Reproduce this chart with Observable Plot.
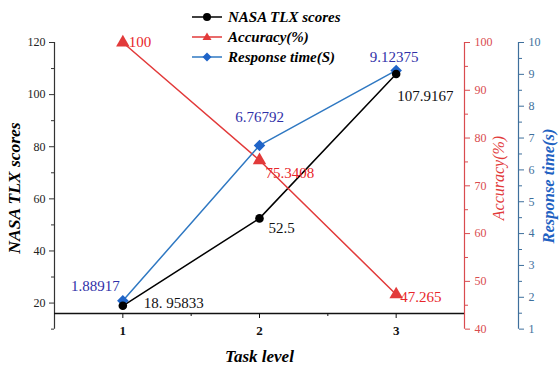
<!DOCTYPE html>
<html>
<head>
<meta charset="utf-8">
<script src="https://cdn.jsdelivr.net/npm/d3@7"></script>
<script src="https://cdn.jsdelivr.net/npm/@observablehq/plot@0.6"></script>
<style>
  body { margin: 0; background: #fff; }
  #wrap { position: relative; width: 559px; height: 370px; font-family: "Liberation Serif", "Times New Roman", serif; }
  #legend { position: absolute; left: 190px; top: 7px; }
  .row { display: flex; align-items: center; height: 20px; font-weight: bold; font-style: italic; font-size: 15px; color: #000; }
  .row svg { margin-right: 4px; }
  svg text { font-family: "Liberation Serif", "Times New Roman", serif; }
</style>
</head>
<body>
<div id="wrap"><div id="legend"></div></div>
<script>
// ---- data ----
const taskLevels = [1, 2, 3];
const nasaScores = [18.95833, 52.5, 107.9167];
const nasaLabels = ["18. 95833", "52.5", "107.9167"];
const accuracy = [100, 75.3408, 47.265];
const accuracyLabels = ["100", "75.3408", "47.265"];
const responseTime = [1.88917, 6.76792, 9.12375];
const responseLabels = ["1.88917", "6.76792", "9.12375"];

const leftMajor = [20, 40, 60, 80, 100, 120];
const leftMinor = [10, 30, 50, 70, 90, 110];
const accMajor = [40, 50, 60, 70, 80, 90, 100];
const accMinor = [45, 55, 65, 75, 85, 95];
const rtMajor = [1, 2, 3, 4, 5, 6, 7, 8, 9, 10];
const rtMinor = [1.5, 2.5, 3.5, 4.5, 5.5, 6.5, 7.5, 8.5, 9.5];
const xMajor = [1, 2, 3];
const xMinor = [1.5, 2.5];

// ---- scale mappings (right axes onto left axis domain) ----
const leftDomain = [10, 120];
const accDomain = [40, 100];
const rtDomain = [1, 10];
const xAxisAt = 16;
const lin = (a, b) => v => b[0] + (v - a[0]) / (a[1] - a[0]) * (b[1] - b[0]);
const accToLeft = lin(accDomain, leftDomain), leftToAcc = lin(leftDomain, accDomain);
const rtToLeft = lin(rtDomain, leftDomain), leftToRt = lin(leftDomain, rtDomain);

const rows = taskLevels.map((t, i) => ({
  t,
  nasa: nasaScores[i], nasaLabel: nasaLabels[i],
  acc: accToLeft(accuracy[i]), accLabel: accuracyLabels[i],
  rt: rtToLeft(responseTime[i]), rtLabel: responseLabels[i]
}));

// colours
const BLACK = "#000";
const RED = "#e23a3a", RED_TXT = "#e8262a", RED_AX = "#d94b4f";
const BLUE = "#2f78c2", BLUE_MK = "#1f64c8", BLUE_TXT = "#3030a8", BLUE_AX = "#3e6f9c", BLUE_TTL = "#1f62c2";
const serif = "Liberation Serif";

// per-label offsets (layout only)
const nasaOff = [[21, -3, "start"], [9, 10, "start"], [1, 22, "start"]];
const accOff = [[6, 0, "start"], [6, 13, "start"], [4, 3, "start"]];
const rtOff = [[-3, -15, "end"], [0, -28, "middle"], [-2, -13, "middle"]];

function labelMarks(key, textKey, offs, fill) {
  return rows.map((r, i) => Plot.text([r], {
    x: "t", y: key, text: textKey, dx: offs[i][0], dy: offs[i][1], textAnchor: offs[i][2],
    fill, fontSize: 15, fontFamily: serif
  }));
}
const tickText = { fontFamily: serif, fontSize: 12 };

const chart = Plot.plot({
  width: 559,
  height: 370,
  marginLeft: 54,
  marginRight: 95,
  marginTop: 42,
  marginBottom: 57,
  style: { fontFamily: serif, background: "transparent" },
  x: { domain: [0.5, 3.5], axis: null },
  y: { domain: [xAxisAt, leftDomain[1]], axis: null },
  marks: [
    // left axis
    Plot.ruleX([0.5], { y1: leftDomain[0], y2: leftDomain[1], stroke: "#333", strokeWidth: 1.2 }),
    Plot.axisY(leftMajor, { anchor: "left", tickSize: 5, tickPadding: 4, ...tickText, fill: "#222", stroke: "#333", label: null, tickFormat: d => String(d) }),
    Plot.axisY(leftMinor, { anchor: "left", tickSize: 3, tickFormat: () => "", stroke: "#333", label: null }),
    // accuracy axis
    Plot.ruleX([3.5], { y1: leftDomain[0], y2: leftDomain[1], stroke: RED_AX, strokeWidth: 1.2 }),
    Plot.axisY(accMajor.map(accToLeft), { anchor: "right", tickSize: 5, tickPadding: 5, ...tickText, fill: RED_AX, stroke: RED_AX, label: null, tickFormat: v => String(Math.round(leftToAcc(v))) }),
    Plot.axisY(accMinor.map(accToLeft), { anchor: "right", tickSize: 3, tickFormat: () => "", stroke: RED_AX, label: null }),
    // response time axis
    Plot.ruleX([3.5], { y1: leftDomain[0], y2: leftDomain[1], dx: 54, stroke: BLUE_AX, strokeWidth: 1.2 }),
    Plot.axisY(rtMajor.map(rtToLeft), { anchor: "right", dx: 54, tickSize: 5, tickPadding: 5, ...tickText, fill: BLUE_AX, stroke: BLUE_AX, label: null, tickFormat: v => String(Math.round(leftToRt(v))) }),
    Plot.axisY(rtMinor.map(rtToLeft), { anchor: "right", dx: 54, tickSize: 3, tickFormat: () => "", stroke: BLUE_AX, label: null }),
    // x axis
    Plot.ruleY([xAxisAt], { x1: 0.5, x2: 3.5, stroke: "#111", strokeWidth: 1.3 }),
    Plot.axisX(xMajor, { anchor: "bottom", tickSize: 5, tickPadding: 7, fontFamily: serif, fontSize: 13, fontWeight: "bold", fill: "#111", stroke: "#111", label: null, tickFormat: d => String(d) }),
    Plot.axisX(xMinor, { anchor: "bottom", tickSize: 3, tickFormat: () => "", stroke: "#111", label: null }),
    // titles
    Plot.text(["NASA TLX scores"], { frameAnchor: "left", textAnchor: "middle", lineAnchor: "middle", dx: -40, dy: 10, rotate: -90, fontFamily: serif, fontSize: 17.5, fontWeight: "bold", fontStyle: "italic", fill: "#000" }),
    Plot.text(["Accuracy(%)"], { frameAnchor: "right", textAnchor: "middle", lineAnchor: "middle", dx: 34, dy: 0, rotate: -90, fontFamily: serif, fontSize: 16, fontStyle: "italic", fill: RED }),
    Plot.text(["Response time(s)"], { frameAnchor: "right", textAnchor: "middle", lineAnchor: "middle", dx: 84, dy: 8, rotate: -90, fontFamily: serif, fontSize: 16.5, fontWeight: "bold", fontStyle: "italic", fill: BLUE_TTL }),
    Plot.text(["Task level"], { frameAnchor: "bottom", textAnchor: "middle", lineAnchor: "middle", dy: 43, fontFamily: serif, fontSize: 17, fontWeight: "bold", fontStyle: "italic", fill: "#000" }),
    // lines
    Plot.line(rows, { x: "t", y: "nasa", stroke: BLACK, strokeWidth: 1.5 }),
    Plot.line(rows, { x: "t", y: "acc", stroke: RED, strokeWidth: 1.5 }),
    Plot.line(rows, { x: "t", y: "rt", stroke: BLUE, strokeWidth: 1.5 }),
    // markers
    Plot.dot(rows, { x: "t", y: "acc", symbol: "triangle", r: 5, fill: RED, stroke: "none" }),
    Plot.dot(rows, { x: "t", y: "rt", symbol: "diamond2", r: 5.2, fill: BLUE_MK, stroke: "none" }),
    Plot.dot(rows, { x: "t", y: "nasa", symbol: "circle", r: 4.3, fill: BLACK, stroke: "none" }),
    // labels
    ...labelMarks("nasa", "nasaLabel", nasaOff, "#111"),
    ...labelMarks("acc", "accLabel", accOff, RED_TXT),
    ...labelMarks("rt", "rtLabel", rtOff, BLUE_TXT)
  ]
});
document.getElementById("wrap").prepend(chart);

// legend (HTML overlay)
const legendItems = [
  { name: "NASA TLX scores", color: BLACK, shape: "circle" },
  { name: "Accuracy(%)", color: RED, shape: "triangle" },
  { name: "Response time(S)", color: BLUE, shape: "diamond" }
];
const legend = document.getElementById("legend");
for (const item of legendItems) {
  const row = document.createElement("div");
  row.className = "row";
  let marker = "";
  if (item.shape === "circle") marker = `<circle cx="17" cy="7" r="4" fill="${item.color}"/>`;
  else if (item.shape === "triangle") marker = `<path d="M17,2.5L21.5,10H12.5Z" fill="${item.color}"/>`;
  else marker = `<path d="M17,2.5L21.5,7L17,11.5L12.5,7Z" fill="${BLUE_MK}"/>`;
  row.innerHTML = `<svg width="34" height="14"><line x1="2" y1="7" x2="32" y2="7" stroke="${item.color}" stroke-width="1.5"/>${marker}</svg><span>${item.name}</span>`;
  legend.appendChild(row);
}
</script>
</body>
</html>
